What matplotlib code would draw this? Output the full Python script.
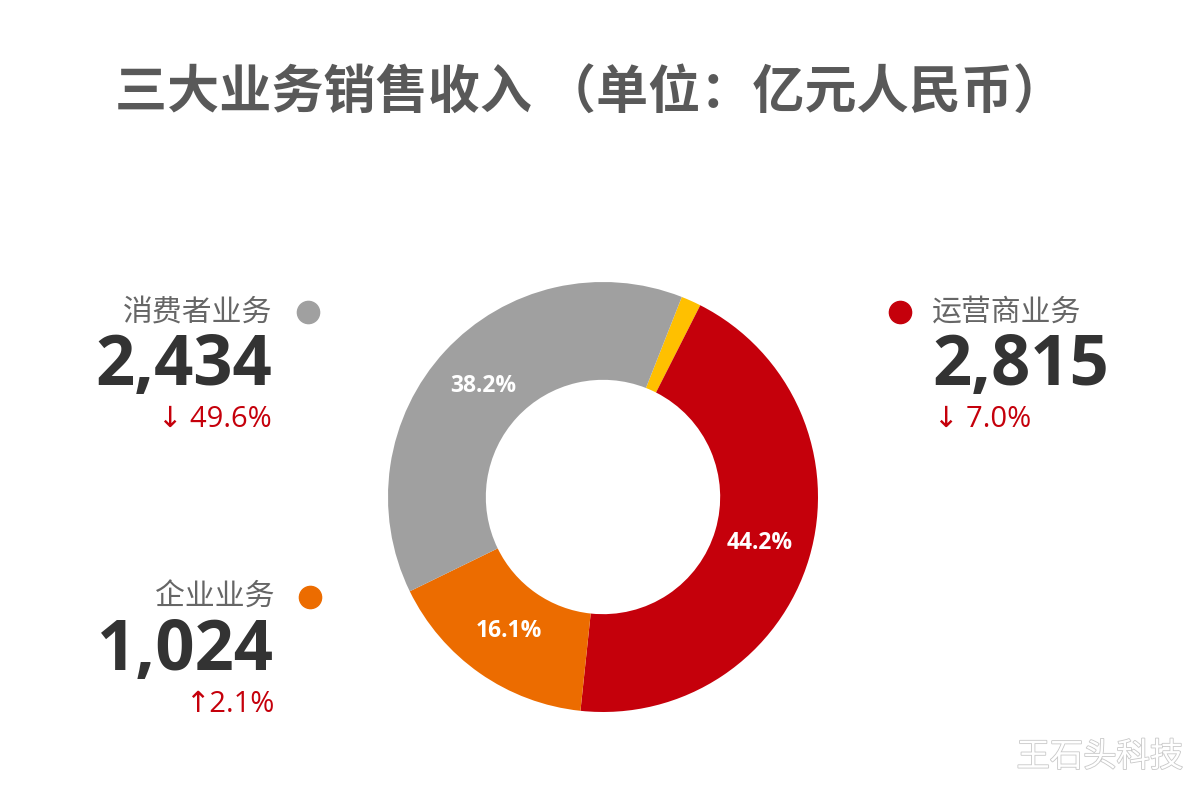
import matplotlib.pyplot as plt
import matplotlib.patheffects as pe
from matplotlib.lines import Line2D

cjk = ['Noto Sans CJK SC', 'DejaVu Sans']
num_font = ['Open Sans', 'DejaVu Sans']
plt.rcParams['font.family'] = cjk

# ring order clockwise from the small yellow slice
segments = ['其他', '运营商业务', '企业业务', '消费者业务']
shares = [1.5, 44.2, 16.1, 38.2]
colors = ['#FFC000', '#C5000B', '#EC6C00', '#A0A0A0']

business = ['运营商业务', '消费者业务', '企业业务']
revenue = [2815, 2434, 1024]
change = ['↓ 7.0%', '↓ 49.6%', '↑2.1%']
dot_colors = ['#C5000B', '#A0A0A0', '#EC6C00']

fig = plt.figure(figsize=(12, 8), dpi=100)
fig.patch.set_facecolor('white')

# donut centre ~ (603, 497) px, radius ~215 px
ax = fig.add_axes([(603 - 215) / 1200, (800 - 712) / 800, 430 / 1200, 430 / 800])
wedges, texts, autotexts = ax.pie(
    shares, colors=colors, startangle=68.5, counterclock=False,
    radius=1.0, wedgeprops=dict(width=0.455, edgecolor='none'),
    autopct=lambda p: '' if p < 5 else f'{p:.1f}%', pctdistance=0.76,
    textprops=dict(color='white', fontsize=16.5, fontweight='bold',
                   family=num_font))
ax.set_xlim(-1, 1)
ax.set_ylim(-1, 1)
ax.axis('off')

fig.text(0.4917, 1 - 92 / 800, '三大业务销售收入 （单位：亿元人民币）', ha='center', va='center',
         fontsize=37.5, fontweight='bold', color='#595959')

# annotation blocks: (x anchor px, label y px, align, dot x px)
blocks = {
    '消费者业务': (272, 312, 'right', 308),
    '企业业务': (274, 597, 'right', 310),
    '运营商业务': (932, 312, 'left', 900),
}
for name, val, chg, dc in zip(business, revenue, change, dot_colors):
    x, y, ha, dx = blocks[name]
    fx = x / 1200
    fig.text(fx, 1 - y / 800, name, ha=ha, va='center', fontsize=21.5, color='#666666')
    fig.text(fx, 1 - (y + 55) / 800, f'{val:,}', ha=ha, va='center', fontsize=49.5,
             fontweight='bold', color='#333333', family=num_font)
    fx2 = fx if ha == 'right' else (x + 2) / 1200
    fig.text(fx2, 1 - (y + 107) / 800, chg, ha=ha, va='center', fontsize=21,
             color='#C5000B', family=num_font)
    fig.add_artist(Line2D([dx / 1200], [1 - y / 800], marker='o', markersize=16,
                          color=dc, linestyle='none', transform=fig.transFigure))

fig.text(1100 / 1200, 1 - 757 / 800, '王石头科技', ha='center', va='center',
         fontsize=24, color='white',
         path_effects=[pe.withStroke(linewidth=1.2, foreground='#c8c8c8')])

fig.savefig('out.png', dpi=100, facecolor='white')
